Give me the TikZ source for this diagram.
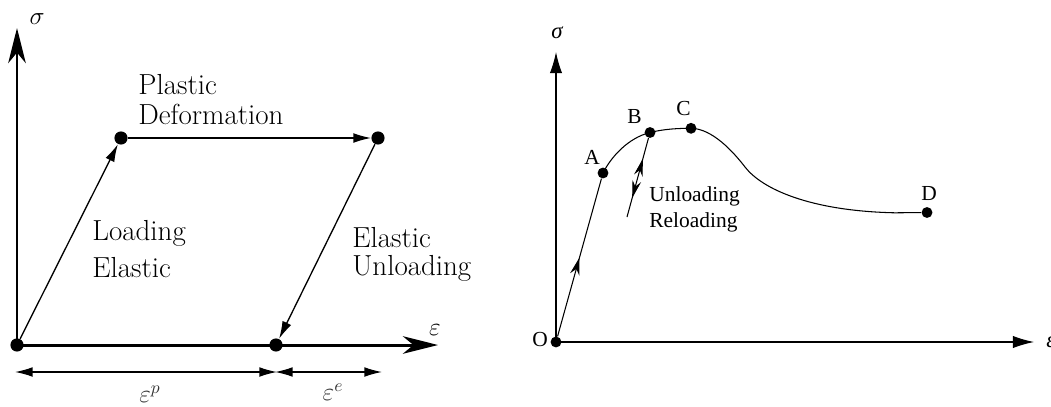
\documentclass[tikz,border=0pt]{standalone}
\usepackage{fontspec}
\newfontfamily\tms{Liberation Serif}
\usetikzlibrary{arrows.meta,decorations.markings}
\begin{document}
\begin{tikzpicture}[x=0.02cm,y=-0.02cm,
 dotL/.style={circle,fill,inner sep=0pt,minimum size=7.5pt},
 dotR/.style={circle,fill,inner sep=0pt,minimum size=6.2pt},
 axL/.style={line width=1.7pt,-{Stealth[length=20pt,width=10pt,inset=6pt]}},
 thinL/.style={line width=0.75pt,-{Latex[length=10pt,width=5.5pt]}},
 dimL/.style={line width=0.75pt,{Latex[length=10pt,width=5.5pt]}-{Latex[length=10pt,width=5.5pt]}},
 txtL/.style={inner sep=0pt,anchor=base west,font=\fontsize{16.5}{20}\selectfont},
 mathL/.style={inner sep=0pt,font=\Large},
 axR/.style={line width=0.6pt,-{Latex[length=12pt,width=7pt]}},
 curveR/.style={line width=0.6pt},
 txtR/.style={inner sep=0pt,anchor=base west,font=\tms\fontsize{12.2}{14}\selectfont},
 midarrow/.style={postaction={decorate},decoration={markings,
   mark=at position #1 with {\arrow{Stealth[length=10pt,width=5.5pt]}}}},
 updown/.style={postaction={decorate},decoration={markings,
   mark=at position 0.26 with {\arrowreversed{Stealth[length=10pt,width=5pt]}},
   mark=at position 0.76 with {\arrow{Stealth[length=10pt,width=5pt]}}}}
]
\fill[white] (0,0) rectangle (1051,406);
\useasboundingbox (0,0) rectangle (1051,406);

% ---------------- left diagram ----------------
\coordinate (Lo) at (17,345);
\coordinate (Ly) at (17,28);
\coordinate (Lx) at (438,345);
\draw[axL] (Lo) -- (Ly);
\draw[axL] (Lo) -- (Lx);
\node[mathL] (Lsig) at (37,19) {$\sigma$};
\node[mathL] (Leps) at (435,330) {$\varepsilon$};

\node[dotL] (L0) at (17,345) {};
\node[dotL] (L1) at (121,138) {};
\node[dotL] (L2) at (378,138) {};
\node[dotL] (L3) at (276,345) {};
\draw[thinL] (L0) -- (L1);
\draw[thinL] (L1) -- (L2);
\draw[thinL] (L2) -- (L3);

\coordinate (D0) at (15,372);
\coordinate (D1) at (277,372);
\coordinate (D1b) at (275,372);
\coordinate (D2) at (382,372);
\draw[dimL] (D0) -- (D1);
\draw[dimL] (D1b) -- (D2);
\node[mathL,text=black!80] (Lep) at (150,394) {$\varepsilon^p$};
\node[mathL,text=black!80] (Lee) at (333,392) {$\varepsilon^e$};

\node[txtL] (tPl) at (138,94) {Plastic};
\node[txtL] (tDe) at (138,124) {Deformation};
\node[txtL] (tLo) at (92,240) {Loading};
\node[txtL] (tEl) at (92,277) {Elastic};
\node[txtL] (tEr) at (352,247) {Elastic};
\node[txtL] (tUn) at (352,275) {Unloading};

% ---------------- right diagram ----------------
\coordinate (Ro) at (556,342);
\coordinate (Ry) at (556,52);
\coordinate (Rx) at (1034,342);
\draw[axR] (Ro) -- (Ry);
\draw[axR] (Ro) -- (Rx);
\node[inner sep=0pt,font=\tms\itshape\fontsize{13}{15}\selectfont] (Rsig) at (557,33) {σ};
\node[inner sep=0pt,anchor=west,font=\tms\itshape\fontsize{13}{15}\selectfont] (Reps) at (1046,342) {ε};

\node[dotR] (O) at (556,342) {};
\node[dotR] (A) at (603,173) {};
\node[dotR] (B) at (650,132.5) {};
\node[dotR] (C) at (691,128.3) {};
\node[dotR] (D) at (927,212.5) {};
\coordinate (M) at (745,167);
\coordinate (E) at (895,212.8);
\coordinate (U) at (627,217);

\draw[curveR,midarrow=0.5] (O) -- (A);
\draw[curveR] (A.center) .. controls (611,157) and (628,138) .. (B.center)
  .. controls (664,129) and (678,128.3) .. (C.center)
  .. controls (712,128.5) and (733,151.4) .. (M)
  .. controls (762,189) and (810,211) .. (E) -- (D);
\draw[curveR,updown] (B) -- (U);

\node[txtR] (lA) at (584,164) {A};
\node[txtR] (lB) at (627,123) {B};
\node[txtR] (lC) at (676,115) {C};
\node[txtR] (lD) at (921,200) {D};
\node[txtR] (lO) at (532,346.5) {O};
\node[txtR] (lU) at (649,201) {Unloading};
\node[txtR] (lR) at (649,227) {Reloading};
\end{tikzpicture}
\end{document}
